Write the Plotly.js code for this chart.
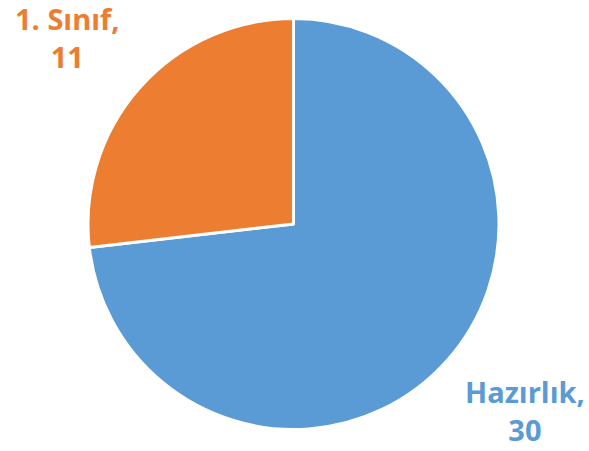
<!DOCTYPE html>
<html>
<head>
<meta charset="utf-8">
<script src="https://cdn.plot.ly/plotly-3.0.1.min.js"></script>
<style>html,body{margin:0;padding:0;background:#fff;}#chart{width:589px;height:451px;}</style>
</head>
<body>
<div id="chart"></div>
<script>
const labels = ["Hazırlık", "1. Sınıf"];
const values = [30, 11];
const colors = ["#5B9BD5", "#ED7D31"];

const labelPos = [
  {x: 525, y: 410},
  {x: 67, y: 38}
];

const annotations = labels.map((l, i) => ({
  xref: "paper", yref: "paper",
  x: labelPos[i].x / 589, y: 1 - labelPos[i].y / 451,
  xanchor: "center", yanchor: "middle",
  text: "<b>" + l + ",<br>" + values[i] + "</b>",
  showarrow: false, align: "center",
  font: {family: "'Open Sans', sans-serif", size: 29, color: colors[i]}
}));

const data = [{
  type: "pie",
  labels: labels,
  values: values,
  sort: false,
  direction: "clockwise",
  rotation: 0,
  marker: {colors: colors, line: {color: "#ffffff", width: 3}},
  textinfo: "none",
  hoverinfo: "label+value",
  domain: {x: [0.1494, 0.8472], y: [0.0477, 0.959]}
}];

const layout = {
  width: 589, height: 451,
  margin: {l: 0, r: 0, t: 0, b: 0},
  showlegend: false,
  paper_bgcolor: "#ffffff",
  annotations: annotations
};

Plotly.newPlot("chart", data, layout, {displayModeBar: false, staticPlot: true});
</script>
</body>
</html>
